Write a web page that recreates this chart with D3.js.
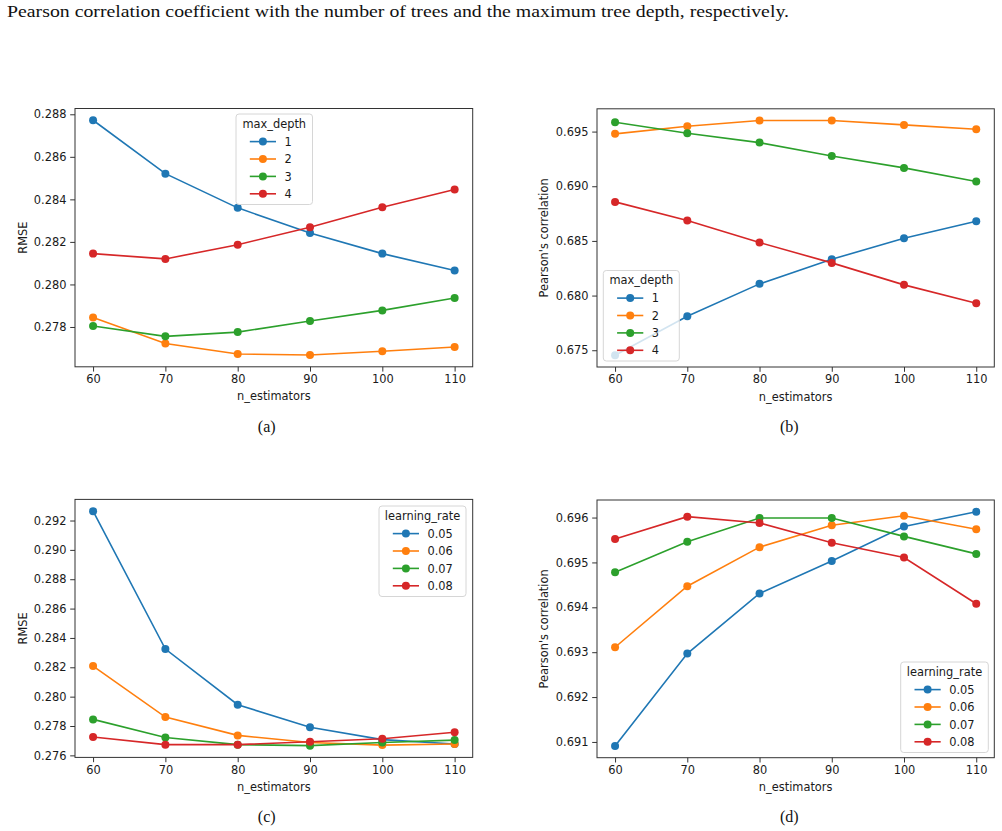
<!DOCTYPE html>
<html>
<head>
<meta charset="utf-8">
<script src="https://cdn.jsdelivr.net/npm/d3@7"></script>
<style>
  body { margin: 0; background: #fff; }
  svg { display: block; }
  .tick text { font-family: "DejaVu Sans", sans-serif; font-size: 11.4px; fill: #1a1a1a; }
  .tick line { stroke: #333; }
</style>
</head>
<body>
<svg id="chart" width="1002" height="831"></svg>
<script>

/* ------------------------------
   DATA
------------------------------ */

const nEstimators = [60, 70, 80, 90, 100, 110];

const depthLabels = ["1", "2", "3", "4"];
const rateLabels = ["0.05", "0.06", "0.07", "0.08"];

// (a) RMSE vs n_estimators, one row per max_depth
const rmseByDepth = [
    [0.28772, 0.28521, 0.28360, 0.28242, 0.28145, 0.28066],
    [0.27845, 0.27722, 0.27673, 0.27668, 0.27686, 0.27706],
    [0.27805, 0.27756, 0.27776, 0.27828, 0.27878, 0.27936],
    [0.28145, 0.28120, 0.28187, 0.28269, 0.28363, 0.28446]
];

// (b) Pearson's correlation vs n_estimators, one row per max_depth
const pearsonByDepth = [
    [0.67454, 0.67811, 0.68107, 0.68332, 0.68524, 0.68680],
    [0.69479, 0.69549, 0.69601, 0.69601, 0.69561, 0.69521],
    [0.69585, 0.69485, 0.69399, 0.69277, 0.69168, 0.69043],
    [0.68857, 0.68686, 0.68485, 0.68299, 0.68098, 0.67930]
];

// (c) RMSE vs n_estimators, one row per learning_rate
const rmseByRate = [
    [0.29264, 0.28324, 0.27945, 0.27791, 0.27707, 0.27677],
    [0.28208, 0.27861, 0.27736, 0.27688, 0.27670, 0.27677],
    [0.27845, 0.27722, 0.27673, 0.27666, 0.27688, 0.27704],
    [0.27725, 0.27673, 0.27673, 0.27693, 0.27713, 0.27757]
];

// (d) Pearson's correlation vs n_estimators, one row per learning_rate
const pearsonByRate = [
    [0.69091, 0.69297, 0.69431, 0.69503, 0.69580, 0.69613],
    [0.69311, 0.69447, 0.69534, 0.69583, 0.69604, 0.69574],
    [0.69478, 0.69546, 0.69599, 0.69599, 0.69558, 0.69519],
    [0.69552, 0.69602, 0.69588, 0.69544, 0.69511, 0.69408]
];

const yTicksA = [0.278, 0.280, 0.282, 0.284, 0.286, 0.288];
const yTicksB = [0.675, 0.680, 0.685, 0.690, 0.695];
const yTicksC = [0.276, 0.278, 0.280, 0.282, 0.284, 0.286, 0.288, 0.290, 0.292];
const yTicksD = [0.691, 0.692, 0.693, 0.694, 0.695, 0.696];

const colors = ["#1f77b4", "#ff7f0e", "#2ca02c", "#d62728"];

const captionText = "Pearson correlation coefficient with the number of trees and the maximum tree depth, respectively.";

/* ------------------------------
   LAYOUT
------------------------------ */

const panels = [
    { series: rmseByDepth, yTicks: yTicksA, yLabel: "RMSE", labelX: 27.3,
      legendTitle: "max_depth", legendLabels: depthLabels,
      box: { left: 75, right: 472.7, top: 108.5, bottom: 366.8 },
      legend: { x: 236, y: 114, w: 76.5 }, caption: "(a)", capX: 266.7, capY: 432 },
    { series: pearsonByDepth, yTicks: yTicksB, yLabel: "Pearson's correlation", labelX: 547.7,
      legendTitle: "max_depth", legendLabels: depthLabels,
      box: { left: 597, right: 994.3, top: 108.8, bottom: 367 },
      legend: { x: 603.3, y: 270.5, w: 76 }, caption: "(b)", capX: 789.3, capY: 432 },
    { series: rmseByRate, yTicks: yTicksC, yLabel: "RMSE", labelX: 27.3,
      legendTitle: "learning_rate", legendLabels: rateLabels,
      box: { left: 75, right: 472.7, top: 499.4, bottom: 757.4 },
      legend: { x: 379, y: 506, w: 87 }, caption: "(c)", capX: 266.7, capY: 822 },
    { series: pearsonByRate, yTicks: yTicksD, yLabel: "Pearson's correlation", labelX: 547.7,
      legendTitle: "learning_rate", legendLabels: rateLabels,
      box: { left: 597, right: 994.3, top: 500, bottom: 757.7 },
      legend: { x: 900.7, y: 662, w: 87.6 }, caption: "(d)", capX: 789.3, capY: 822 }
];

const svg = d3.select("#chart");

/* ------------------------------
   PAGE TEXT
------------------------------ */

svg.append("text")
    .attr("x", 7)
    .attr("y", 17.3)
    .attr("textLength", 782)
    .attr("lengthAdjust", "spacingAndGlyphs")
    .style("font-family", "'Liberation Serif', 'Times New Roman', serif")
    .style("font-size", "16.5px")
    .style("fill", "#111")
    .text(captionText);

/* ------------------------------
   PANELS
------------------------------ */

panels.forEach(function (p) {

    const b = p.box;

    // matplotlib style 5% margins
    const allY = p.series.flat();
    const yMin = d3.min(allY), yMax = d3.max(allY);
    const yPad = (yMax - yMin) * 0.05;

    const x = d3.scaleLinear()
        .domain([57.5, 112.5])
        .range([b.left, b.right]);

    const y = d3.scaleLinear()
        .domain([yMin - yPad, yMax + yPad])
        .range([b.bottom, b.top]);

    const g = svg.append("g");

    // axes
    const xAxis = g.append("g")
        .attr("transform", "translate(0," + b.bottom + ")")
        .call(d3.axisBottom(x).tickValues(nEstimators).tickSize(4.8).tickSizeOuter(0).tickPadding(3.5).tickFormat(d3.format("d")));

    const yAxis = g.append("g")
        .attr("transform", "translate(" + b.left + ",0)")
        .call(d3.axisLeft(y).tickValues(p.yTicks).tickSize(4.8).tickSizeOuter(0).tickPadding(3.8).tickFormat(d3.format(".3f")));

    xAxis.select(".domain").remove();
    yAxis.select(".domain").remove();
    xAxis.selectAll("text").attr("y", 8.2).attr("dy", "0.71em");

    // frame
    g.append("rect")
        .attr("x", b.left)
        .attr("y", b.top)
        .attr("width", b.right - b.left)
        .attr("height", b.bottom - b.top)
        .attr("fill", "none")
        .attr("stroke", "#333")
        .attr("stroke-width", 1);

    // axis labels
    g.append("text")
        .attr("x", (b.left + b.right) / 2)
        .attr("y", b.bottom + 33.5)
        .attr("text-anchor", "middle")
        .style("font-family", "'DejaVu Sans', sans-serif")
        .style("font-size", "11.4px")
        .style("fill", "#1a1a1a")
        .text("n_estimators");

    g.append("text")
        .attr("transform", "translate(" + p.labelX + "," + ((b.top + b.bottom) / 2) + ") rotate(-90)")
        .attr("text-anchor", "middle")
        .style("font-family", "'DejaVu Sans', sans-serif")
        .style("font-size", "11.4px")
        .style("fill", "#1a1a1a")
        .text(p.yLabel);

    // series
    const line = d3.line()
        .x((d, i) => x(nEstimators[i]))
        .y(d => y(d));

    p.series.forEach(function (values, s) {

        g.append("path")
            .datum(values)
            .attr("d", line)
            .attr("fill", "none")
            .attr("stroke", colors[s])
            .attr("stroke-width", 1.6);

        g.selectAll(null)
            .data(values)
            .enter()
            .append("circle")
            .attr("cx", (d, i) => x(nEstimators[i]))
            .attr("cy", d => y(d))
            .attr("r", 4)
            .attr("fill", colors[s]);
    });

    // legend
    const L = p.legend;
    const lg = g.append("g").attr("transform", "translate(" + L.x + "," + L.y + ")");

    lg.append("rect")
        .attr("width", L.w)
        .attr("height", 90.5)
        .attr("rx", 3)
        .attr("fill", "#fff")
        .attr("fill-opacity", 0.8)
        .attr("stroke", "#d6d6d6")
        .attr("stroke-width", 1);

    lg.append("text")
        .attr("x", L.w / 2)
        .attr("y", 13.8)
        .attr("text-anchor", "middle")
        .style("font-family", "'DejaVu Sans', sans-serif")
        .style("font-size", "11.4px")
        .style("fill", "#1a1a1a")
        .text(p.legendTitle);

    p.legendLabels.forEach(function (label, s) {

        const ry = 27.6 + s * 17.4;

        lg.append("line")
            .attr("x1", 13.8)
            .attr("x2", 40)
            .attr("y1", ry)
            .attr("y2", ry)
            .attr("stroke", colors[s])
            .attr("stroke-width", 1.6);

        lg.append("circle")
            .attr("cx", 26.9)
            .attr("cy", ry)
            .attr("r", 4)
            .attr("fill", colors[s]);

        lg.append("text")
            .attr("x", 48.5)
            .attr("y", ry)
            .attr("dy", "0.36em")
            .style("font-family", "'DejaVu Sans', sans-serif")
            .style("font-size", "11.4px")
            .style("fill", "#1a1a1a")
            .text(label);
    });

    // subfigure caption
    svg.append("text")
        .attr("x", p.capX)
        .attr("y", p.capY)
        .attr("text-anchor", "middle")
        .style("font-family", "'Liberation Serif', 'Times New Roman', serif")
        .style("font-size", "16px")
        .style("fill", "#111")
        .text(p.caption);
});

</script>
</body>
</html>
